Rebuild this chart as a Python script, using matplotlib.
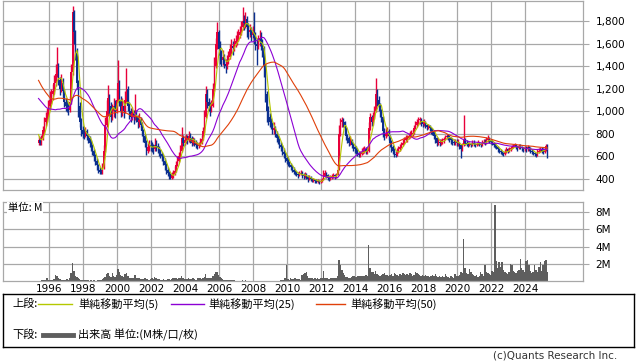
import numpy as np
import pandas as pd
import matplotlib
matplotlib.use("Agg")
import matplotlib.pyplot as plt
import matplotlib.dates as mdates
from datetime import datetime

# ===========================
# DATA (monthly)
# ===========================

# closes before the first drawn month, only used to warm up the moving averages
PRE_CLOSES = [
    1950, 1900, 1900, 1850, 1850, 1800, 1850, 1900,
    1500, 1400, 1300, 1250, 1200, 1150, 1200, 1250, 1300, 1200, 1150, 1100, 1150, 1200, 1250, 1150, 1100,
    1100, 1150, 1200, 1250, 1300, 1250, 1200, 1150, 1200, 1250, 1300, 1350, 1300, 1250, 1200, 1150, 1100,
    1100, 1050, 1000, 900, 820, 780, 720,
]

FIRST_MONTH = "1995-05-01"

CLOSES = [
    740, 720, 760, 830, 900, 940, 980, 1050,                              # 1995 (May-)
    1100, 1150, 1180, 1250, 1330, 1400, 1280, 1200, 1250, 1180, 1080, 1050,  # 1996
    1030, 1010, 1080, 1350, 1880, 1700, 1520, 1250, 1050, 900, 830, 800,    # 1997
    790, 820, 780, 760, 720, 690, 650, 600, 560, 520, 480, 460,            # 1998
    450, 500, 650, 880, 1000, 1120, 1050, 950, 1000, 1050, 1000, 1100,     # 1999
    1250, 1100, 1000, 1050, 1000, 1100, 1200, 1050, 1000, 950, 980, 950,   # 2000
    980, 950, 900, 920, 880, 820, 780, 720, 650, 680, 700, 690,            # 2001
    680, 660, 700, 690, 670, 640, 620, 600, 560, 520, 480, 450,            # 2002
    420, 410, 430, 440, 470, 520, 560, 600, 650, 760, 720, 740,            # 2003
    760, 740, 780, 760, 720, 740, 720, 700, 690, 700, 720, 750,            # 2004
    820, 950, 1150, 1080, 1050, 1000, 1050, 1200, 1400, 1600, 1700, 1550,  # 2005
    1500, 1450, 1480, 1420, 1400, 1450, 1480, 1550, 1580, 1560, 1600, 1620,  # 2006
    1650, 1680, 1700, 1750, 1800, 1780, 1820, 1750, 1700, 1720, 1680, 1700,  # 2007
    1650, 1600, 1580, 1620, 1650, 1600, 1560, 1400, 1150, 1000, 950, 900,  # 2008
    880, 830, 850, 800, 760, 740, 700, 680, 640, 620, 580, 560,            # 2009
    540, 520, 500, 480, 460, 450, 440, 430, 440, 450, 430, 420,            # 2010
    430, 420, 400, 410, 400, 390, 395, 380, 375, 380, 370, 380,            # 2011
    390, 420, 450, 430, 410, 400, 410, 420, 430, 420, 430, 480,            # 2012
    800, 900, 920, 900, 850, 780, 760, 720, 740, 700, 680, 660,            # 2013
    650, 630, 610, 620, 640, 650, 660, 640, 650, 850, 950, 900,            # 2014
    950, 1000, 1150, 1100, 1050, 1000, 950, 820, 780, 800, 820, 780,       # 2015
    720, 680, 650, 620, 610, 640, 660, 680, 700, 720, 740, 760,            # 2016
    760, 780, 790, 800, 810, 850, 880, 900, 920, 930, 900, 890,            # 2017
    900, 880, 860, 870, 850, 830, 820, 780, 760, 720, 730, 720,            # 2018
    730, 740, 750, 770, 780, 770, 760, 740, 730, 720, 730, 720,            # 2019
    720, 700, 660, 700, 740, 720, 710, 700, 710, 700, 720, 710,            # 2020
    700, 710, 720, 710, 700, 720, 730, 720, 740, 760, 740, 730,            # 2021
    720, 700, 690, 680, 660, 650, 640, 630, 620, 640, 660, 650,            # 2022
    660, 670, 680, 690, 700, 680, 670, 690, 680, 670, 660, 670,            # 2023
    660, 680, 670, 650, 640, 630, 620, 610, 640, 650, 660, 650,            # 2024
    640, 660, 690, 670,                                                    # 2025
]

HIGHS = [
    780, 770, 790, 870, 950, 990, 1030, 1100,
    1180, 1200, 1240, 1320, 1420, 1570, 1430, 1300, 1330, 1290, 1200, 1120,
    1100, 1070, 1130, 1420, 1930, 1900, 1720, 1560, 1280, 1080, 940, 870,
    850, 860, 840, 800, 780, 740, 710, 660, 620, 580, 530, 500,
    490, 540, 700, 950, 1100, 1230, 1150, 1080, 1060, 1120, 1100, 1200,
    1450, 1280, 1130, 1120, 1080, 1180, 1380, 1220, 1080, 1030, 1040, 1010,
    1150, 1010, 970, 980, 950, 900, 840, 800, 740, 720, 740, 740,
    730, 710, 760, 740, 720, 690, 660, 640, 620, 580, 540, 500,
    470, 450, 460, 480, 510, 560, 600, 640, 700, 860, 790, 780,
    800, 790, 820, 810, 780, 770, 760, 740, 730, 730, 760, 790,
    860, 1010, 1220, 1200, 1120, 1080, 1100, 1250, 1480, 1650, 1790, 1720,
    1620, 1540, 1540, 1510, 1460, 1500, 1530, 1600, 1640, 1620, 1650, 1680,
    1710, 1730, 1760, 1800, 1920, 1850, 1880, 1840, 1780, 1770, 1750, 1760,
    1880, 1700, 1650, 1680, 1720, 1700, 1640, 1580, 1420, 1180, 1050, 980,
    940, 900, 900, 870, 820, 790, 760, 730, 700, 670, 640, 610,
    590, 560, 540, 520, 500, 480, 470, 460, 470, 480, 470, 450,
    460, 450, 430, 430, 420, 410, 410, 400, 395, 400, 390, 400,
    410, 480, 480, 460, 440, 420, 430, 440, 450, 440, 450, 520,
    880, 940, 950, 940, 910, 860, 800, 780, 780, 750, 720, 700,
    690, 670, 650, 650, 670, 680, 690, 680, 680, 900, 980, 970,
    990, 1050, 1290, 1200, 1130, 1070, 1020, 960, 850, 850, 860, 840,
    790, 740, 700, 670, 650, 670, 690, 710, 730, 750, 770, 790,
    790, 810, 820, 830, 840, 880, 910, 930, 945, 950, 940, 920,
    930, 910, 890, 890, 880, 860, 850, 830, 800, 770, 760, 750,
    750, 760, 770, 790, 800, 800, 790, 770, 760, 750, 750, 750,
    750, 730, 710, 720, 966, 760, 740, 730, 730, 720, 740, 740,
    720, 730, 740, 730, 720, 740, 750, 750, 770, 790, 770, 750,
    740, 730, 720, 700, 690, 670, 660, 650, 640, 660, 680, 670,
    680, 690, 700, 710, 720, 710, 690, 710, 710, 690, 680, 690,
    690, 700, 690, 680, 660, 650, 640, 630, 660, 670, 680, 680,
    670, 680, 710, 710,
]

LOWS = [
    700, 700, 700, 740, 800, 870, 900, 950,
    1010, 1060, 1100, 1150, 1220, 1300, 1230, 1140, 1170, 1120, 1040, 1000,
    990, 970, 990, 1060, 1320, 1600, 1450, 1200, 950, 860, 780, 760,
    750, 770, 740, 720, 680, 650, 610, 560, 520, 480, 450, 440,
    440, 440, 490, 640, 860, 960, 960, 900, 920, 950, 940, 980,
    1080, 1050, 950, 960, 940, 980, 1080, 1000, 930, 900, 920, 890,
    920, 900, 850, 860, 830, 780, 730, 680, 610, 630, 650, 650,
    640, 620, 650, 650, 630, 600, 580, 560, 520, 480, 440, 420,
    400, 395, 400, 410, 430, 460, 510, 550, 590, 640, 690, 700,
    720, 710, 730, 720, 690, 700, 690, 670, 660, 670, 690, 710,
    740, 810, 940, 1030, 1000, 960, 990, 1040, 1180, 1380, 1550, 1500,
    1420, 1400, 1410, 1380, 1340, 1370, 1420, 1460, 1510, 1500, 1530, 1570,
    1590, 1620, 1650, 1680, 1720, 1720, 1740, 1660, 1640, 1660, 1620, 1650,
    1600, 1540, 1410, 1550, 1580, 1540, 1480, 1300, 1080, 900, 880, 860,
    840, 800, 800, 770, 730, 710, 670, 650, 610, 580, 550, 530,
    510, 500, 480, 460, 440, 430, 420, 410, 420, 430, 410, 400,
    410, 400, 370, 390, 380, 375, 375, 365, 360, 365, 355, 360,
    370, 390, 420, 410, 390, 380, 390, 400, 410, 400, 410, 430,
    480, 780, 860, 860, 800, 740, 720, 690, 700, 670, 650, 630,
    620, 600, 590, 595, 610, 620, 630, 620, 620, 640, 830, 870,
    880, 930, 990, 1050, 1000, 950, 900, 770, 740, 760, 780, 740,
    680, 640, 620, 595, 590, 600, 630, 650, 670, 690, 710, 730,
    730, 750, 760, 770, 780, 800, 840, 860, 880, 890, 870, 860,
    870, 850, 830, 840, 820, 800, 790, 750, 720, 690, 700, 690,
    700, 710, 720, 740, 750, 740, 730, 710, 700, 700, 700, 690,
    690, 660, 580, 650, 690, 700, 690, 680, 690, 680, 690, 690,
    680, 690, 700, 690, 680, 690, 710, 700, 710, 730, 720, 710,
    700, 680, 670, 660, 640, 630, 620, 610, 600, 610, 630, 630,
    640, 650, 660, 670, 680, 660, 650, 660, 660, 650, 640, 650,
    640, 650, 650, 630, 620, 610, 600, 595, 600, 630, 640, 630,
    620, 630, 650, 585,
]

# monthly volume, millions of shares
VOLUMES = [
    0.05, 0.05, 0.1, 0.1, 0.15, 0.1, 0.35, 0.1,
    0.1, 0.1, 0.15, 0.2, 0.7, 0.6, 0.3, 0.2, 0.15, 0.1, 0.1, 0.1,
    0.2, 0.15, 0.4, 0.9, 2.1, 1.2, 0.6, 0.5, 0.3, 0.2, 0.15, 0.1,
    0.1, 0.15, 0.1, 0.1, 0.05, 0.1, 0.05, 0.1, 0.05, 0.05, 0.1, 0.1,
    0.1, 0.2, 0.3, 0.5, 0.8, 0.9, 0.6, 0.5, 0.9, 0.6, 0.5, 0.7,
    1.4, 1.1, 0.7, 0.6, 0.5, 0.8, 0.9, 0.6, 0.4, 0.3, 0.3, 0.3,
    0.7, 0.4, 0.3, 0.3, 0.25, 0.2, 0.2, 0.3, 0.2, 0.2, 0.15, 0.2,
    0.3, 0.2, 0.5, 0.3, 0.2, 0.2, 0.15, 0.15, 0.2, 0.1, 0.15, 0.2,
    0.2, 0.15, 0.2, 0.3, 0.4, 0.3, 0.2, 0.4, 0.3, 0.6, 0.3, 0.2,
    0.2, 0.25, 0.3, 0.2, 0.2, 0.3, 0.2, 0.15, 0.3, 0.4, 0.3, 0.2,
    0.3, 0.5, 0.8, 0.4, 0.3, 0.3, 0.4, 0.6, 0.8, 1.0, 1.1, 0.7,
    0.5, 0.3, 0.2, 0.15, 0.15, 0.1, 0.1, 0.1, 0.15, 0.1, 0.1, 0.05,
    0.05, 0.05, 0.04, 0.05, 0.08, 0.05, 0.06, 0.04, 0.03, 0.03, 0.03, 0.03,
    0.03, 0.02, 0.02, 0.02, 0.03, 0.02, 0.02, 0.03, 0.04, 0.05, 0.03, 0.02,
    0.03, 0.02, 0.02, 0.03, 0.03, 0.05, 0.05, 0.1, 0.15, 0.1, 0.3, 1.9,
    0.2, 0.15, 0.3, 0.2, 0.2, 0.3, 0.2, 0.25, 0.2, 0.15, 0.7, 0.8,
    0.9, 1.0, 0.6, 0.4, 0.3, 0.3, 0.2, 0.3, 0.25, 0.3, 0.25, 0.3,
    0.3, 1.2, 0.4, 0.3, 0.3, 0.25, 0.3, 0.3, 0.4, 0.3, 0.4, 0.6,
    2.4, 1.8, 1.3, 0.9, 0.7, 0.5, 0.5, 0.4, 0.3, 0.5, 0.6, 0.6,
    0.5, 0.6, 0.6, 0.6, 0.6, 0.6, 0.6, 0.7, 0.6, 4.2, 1.5, 1.0,
    1.0, 0.8, 1.2, 0.8, 0.7, 0.6, 0.7, 0.8, 0.9, 0.7, 0.7, 0.6,
    0.7, 0.8, 0.6, 0.9, 0.8, 0.7, 0.6, 0.8, 0.7, 0.9, 0.8, 0.7,
    0.8, 0.7, 0.9, 0.8, 0.6, 0.7, 1.0, 0.9, 0.8, 0.7, 0.6, 0.7,
    0.6, 0.7, 0.6, 0.6, 0.5, 0.6, 0.7, 0.6, 0.8, 0.6, 0.5, 0.6,
    0.5, 0.6, 0.5, 0.8, 0.6, 0.5, 0.4, 0.6, 0.5, 0.4, 0.8, 0.6,
    0.6, 0.7, 1.0, 0.9, 4.9, 1.5, 0.9, 0.8, 1.4, 1.0, 0.8, 0.7,
    0.6, 0.7, 0.5, 0.6, 1.1, 0.8, 0.6, 1.8, 1.0, 0.9, 0.8, 0.7,
    1.2, 1.1, 8.8, 2.3, 1.5, 2.2, 1.6, 2.2, 1.3, 1.0, 0.9, 0.8,
    1.0, 2.0, 1.9, 1.2, 1.0, 0.9, 1.2, 1.3, 2.6, 1.5, 1.3, 1.0,
    2.3, 2.4, 1.8, 1.2, 0.9, 1.0, 1.9, 1.3, 1.1, 1.6, 2.2, 1.2,
    1.8, 2.3, 2.4, 1.0,
]

MA_WINDOWS = [5, 25, 50]
YEAR_TICKS = list(range(1996, 2025, 2))
PRICE_TICKS = [400, 600, 800, 1000, 1200, 1400, 1600, 1800]
VOLUME_TICKS = [2, 4, 6, 8]

# ===========================
# STYLE
# ===========================

UP_COLOR = "#e8003a"
DOWN_COLOR = "#0b2f8f"
MA_COLORS = {5: "#b4c800", 25: "#8c00d4", 50: "#e0400a"}
VOLUME_COLOR = "#5e5e5e"
GRID_COLOR = "#a8a8a8"
JP_FONT = ["Noto Sans CJK JP", "DejaVu Sans"]

plt.rcParams["font.family"] = ["DejaVu Sans", "Noto Sans CJK JP"]

W, H = 638, 362


def px_rect(left, top, right, bottom):
    """Axes rectangle from pixel edges (origin top-left)."""
    return [left / W, 1 - bottom / H, (right - left) / W, (bottom - top) / H]


def style_panel(ax):
    ax.set_facecolor("white")
    for sp in ax.spines.values():
        sp.set_color(GRID_COLOR)
        sp.set_linewidth(0.9)
    ax.grid(True, color=GRID_COLOR, linewidth=0.9)
    ax.set_axisbelow(True)
    ax.yaxis.tick_right()
    ax.tick_params(axis="y", length=4, color=GRID_COLOR, pad=5, labelsize=7.5)
    ax.tick_params(axis="x", length=0)


# ===========================
# PREPARE SERIES
# ===========================

months = pd.date_range(FIRST_MONTH, periods=len(CLOSES), freq="MS") + pd.Timedelta(days=14)
x = mdates.date2num(months)
closes = np.array(CLOSES, dtype=float)
opens = np.r_[PRE_CLOSES[-1], closes[:-1]]
all_closes = pd.Series(PRE_CLOSES + CLOSES, dtype=float)
moving_avgs = {n: all_closes.rolling(n).mean().iloc[len(PRE_CLOSES):].values for n in MA_WINDOWS}
colors = np.where(closes >= opens, UP_COLOR, DOWN_COLOR)

# ===========================
# DRAW
# ===========================

fig = plt.figure(figsize=(W / 100, H / 100), dpi=100)
ax = fig.add_axes(px_rect(3, 0.5, 583, 190))
axv = fig.add_axes(px_rect(3, 201.7, 583, 281), sharex=ax)
axl = fig.add_axes(px_rect(3, 294, 634, 346.7))

# price panel
style_panel(ax)
ax.vlines(x, LOWS, HIGHS, colors=colors, linewidth=1.0, zorder=2)
ax.bar(x, closes - opens, bottom=opens, width=30, color=colors, linewidth=0, zorder=2)
for n in MA_WINDOWS:
    ax.plot(x, moving_avgs[n], color=MA_COLORS[n], linewidth=0.8, zorder=3)
ax.set_ylim(300, 1982)
ax.set_yticks(PRICE_TICKS)
ax.set_yticklabels([f"{v:,}" for v in PRICE_TICKS])
ax.set_xticks(mdates.date2num([datetime(y, 1, 1) for y in YEAR_TICKS]))
ax.tick_params(axis="x", labelbottom=False)
ax.set_xlim(mdates.date2num(datetime(1993, 4, 12)), mdates.date2num(datetime(2027, 5, 22)))

# volume panel
style_panel(axv)
axv.bar(x, VOLUMES, width=31, color=VOLUME_COLOR, linewidth=0, zorder=2)
axv.set_ylim(0, 9.2)
axv.set_yticks(VOLUME_TICKS)
axv.set_yticklabels([f"{v}M" for v in VOLUME_TICKS])
axv.set_xticklabels([str(y) for y in YEAR_TICKS])
axv.tick_params(axis="x", labelsize=7.5, pad=2)
axv.text(0.008, 0.985, "単位: M", transform=axv.transAxes, ha="left", va="top",
         fontsize=7.5, family=JP_FONT, zorder=5,
         bbox=dict(boxstyle="square,pad=0.1", fc="white", ec="none"))

# legend box, drawn in pixel coordinates
axl.set_xlim(3, 634)
axl.set_ylim(346.7, 294)
axl.set_xticks([])
axl.set_yticks([])
for sp in axl.spines.values():
    sp.set_color("black")
    sp.set_linewidth(1.0)

row1, row2 = 304, 335
axl.text(12, row1, "上段:", va="center", fontsize=8, family=JP_FONT)
legend_items = [(5, 38, 72, 78), (25, 171, 204, 208), (50, 316, 345, 350)]
for n, x0, x1, tx in legend_items:
    axl.plot([x0, x1], [row1, row1], color=MA_COLORS[n], linewidth=1.0)
    axl.text(tx, row1, f"単純移動平均({n})", va="center", fontsize=8, family=JP_FONT)
axl.text(12, row2, "下段:", va="center", fontsize=8, family=JP_FONT)
axl.plot([43, 73], [row2, row2], color=VOLUME_COLOR, linewidth=3.5)
axl.text(78, row2, "出来高 単位:(M株/口/枚)", va="center", fontsize=8, family=JP_FONT)

fig.text(617 / W, 1 - 356 / H, "(c)Quants Research Inc.", ha="right", va="center",
         fontsize=7.5, color="#333333")

fig.savefig("out.png", dpi=100)
